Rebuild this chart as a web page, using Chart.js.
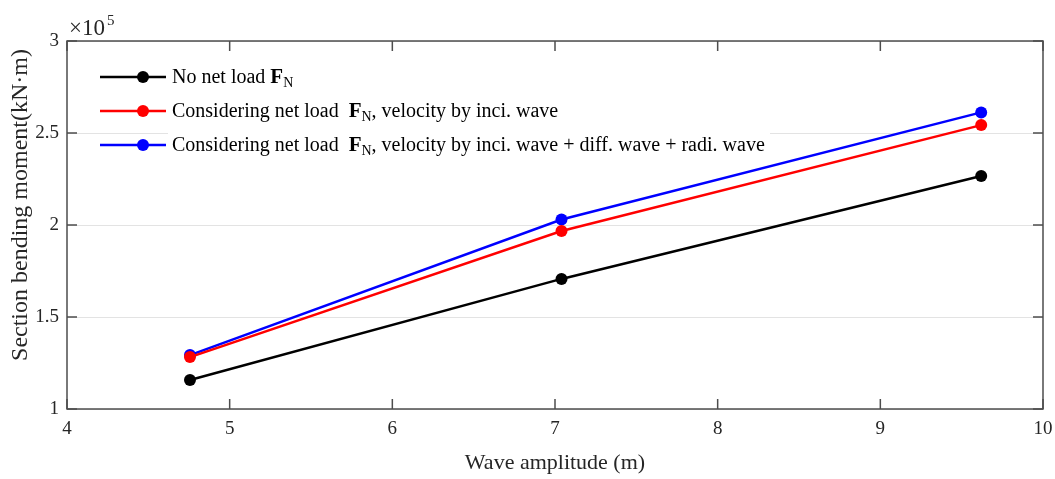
<!DOCTYPE html>
<html>
<head>
<meta charset="utf-8">
<script src="https://cdn.jsdelivr.net/npm/chart.js@4"></script>
<style>
    html, body { margin: 0; padding: 0; background: #fff; }
    #wrap { width: 1055px; height: 479px; }
</style>
</head>
<body>
<div id="wrap"><canvas id="momentChart" width="1055" height="479"></canvas></div>
<script>
// Data (bending moment in units of 10^5 kN·m)
const waveAmplitude = [4.756, 7.04, 9.62];
const noNetLoad = [1.158, 1.707, 2.266];
const inciWave = [1.282, 1.967, 2.543];
const allWaves = [1.293, 2.030, 2.612];

const seriesLabels = [
    ['No net load ', ''],
    ['Considering net load  ', ', velocity by inci. wave'],
    ['Considering net load  ', ', velocity by inci. wave + diff. wave + radi. wave']
];
const seriesColors = ['#000000', '#ff0000', '#0000ff'];
const yTicks = [1, 1.5, 2, 2.5, 3];

const FONT = '"Liberation Serif", "Times New Roman", serif';

function toPoints(ys) {
    return waveAmplitude.map((x, i) => ({ x: x, y: ys[i] }));
}

// Frame, inward ticks, titles and legend (MATLAB look)
const decorPlugin = {
    id: 'decor',
    beforeDatasetsDraw(chart) {
        const { ctx } = chart;
        // white box behind legend text hides the gridline
        ctx.save();
        ctx.fillStyle = '#fff';
        ctx.fillRect(168, 58, 602, 104);
        ctx.restore();
    },
    afterDraw(chart) {
        const { ctx, chartArea: a, scales } = chart;
        ctx.save();
        ctx.strokeStyle = '#4d4d4d';
        ctx.lineWidth = 1.5;
        ctx.strokeRect(a.left, a.top, a.right - a.left, a.bottom - a.top);

        // inward ticks
        ctx.beginPath();
        scales.x.ticks.forEach(t => {
            const px = scales.x.getPixelForValue(t.value);
            ctx.moveTo(px, a.bottom); ctx.lineTo(px, a.bottom - 10);
            ctx.moveTo(px, a.top); ctx.lineTo(px, a.top + 10);
        });
        scales.y.ticks.forEach(t => {
            const py = scales.y.getPixelForValue(t.value);
            ctx.moveTo(a.left, py); ctx.lineTo(a.left + 10, py);
            ctx.moveTo(a.right, py); ctx.lineTo(a.right - 10, py);
        });
        ctx.stroke();

        // exponent label
        ctx.fillStyle = '#262626';
        ctx.font = '23px ' + FONT;
        ctx.textBaseline = 'alphabetic';
        ctx.textAlign = 'left';
        ctx.fillText('\u00d710', 69, 35);
        ctx.font = '15px ' + FONT;
        ctx.fillText('5', 107, 25);

        // axis titles
        ctx.font = '22px ' + FONT;
        ctx.textAlign = 'center';
        ctx.textBaseline = 'middle';
        ctx.fillText('Wave amplitude (m)', (a.left + a.right) / 2, 463);
        ctx.save();
        ctx.translate(21, 205);
        ctx.rotate(-Math.PI / 2);
        ctx.font = '24px ' + FONT;
        ctx.fillText('Section bending moment(kN\u00b7m)', 0, 0);
        ctx.restore();

        // legend
        const rowsY = [77, 111, 145];
        seriesLabels.forEach((parts, i) => {
            const y = rowsY[i];
            ctx.strokeStyle = seriesColors[i];
            ctx.lineWidth = 2.5;
            ctx.beginPath();
            ctx.moveTo(100, y); ctx.lineTo(166, y);
            ctx.stroke();
            ctx.fillStyle = seriesColors[i];
            ctx.beginPath();
            ctx.arc(143, y, 6, 0, Math.PI * 2);
            ctx.fill();

            ctx.fillStyle = '#000';
            ctx.textAlign = 'left';
            ctx.textBaseline = 'alphabetic';
            let x = 172;
            const base = y + 6;
            ctx.font = '20px ' + FONT;
            ctx.fillText(parts[0], x, base);
            x += ctx.measureText(parts[0]).width;
            ctx.font = 'bold 21px ' + FONT;
            ctx.fillText('F', x, base);
            x += ctx.measureText('F').width;
            ctx.font = '14px ' + FONT;
            ctx.fillText('N', x, base + 4);
            x += ctx.measureText('N').width;
            ctx.font = '20px ' + FONT;
            ctx.fillText(parts[1], x, base);
        });
        ctx.restore();
    }
};

function makeDataset(label, ys, color) {
    return {
        label: label,
        data: toPoints(ys),
        borderColor: color,
        backgroundColor: color,
        borderWidth: 2.5,
        pointRadius: 6,
        pointHoverRadius: 6,
        pointBorderWidth: 0,
        tension: 0
    };
}

new Chart(document.getElementById('momentChart'), {
    type: 'line',
    data: {
        datasets: [
            makeDataset('No net load F_N', noNetLoad, seriesColors[0]),
            makeDataset('Considering net load F_N, velocity by inci. wave', inciWave, seriesColors[1]),
            makeDataset('Considering net load F_N, velocity by inci. wave + diff. wave + radi. wave', allWaves, seriesColors[2])
        ]
    },
    options: {
        responsive: false,
        animation: false,
        layout: { padding: { left: 0, top: 41, right: 12, bottom: 0 } },
        plugins: {
            legend: { display: false },
            tooltip: { enabled: false }
        },
        scales: {
            x: {
                type: 'linear',
                min: 4,
                max: 10,
                afterFit: s => { s.height = 70; s.paddingLeft = 0; s.paddingRight = 0; },
                grid: { display: false, drawTicks: false },
                border: { display: false },
                ticks: {
                    stepSize: 1,
                    padding: 9,
                    color: '#262626',
                    font: { family: FONT, size: 19 }
                }
            },
            y: {
                type: 'linear',
                min: 1,
                max: 3,
                afterFit: s => { s.width = 67; s.paddingTop = 0; s.paddingBottom = 0; },
                afterBuildTicks: s => { s.ticks = yTicks.map(v => ({ value: v })); },
                grid: { color: '#e3e3e3', lineWidth: 1, drawTicks: false },
                border: { display: false },
                ticks: {
                    padding: 8,
                    color: '#262626',
                    font: { family: FONT, size: 19 },
                    callback: v => String(v)
                }
            }
        }
    },
    plugins: [decorPlugin]
});
</script>
</body>
</html>
